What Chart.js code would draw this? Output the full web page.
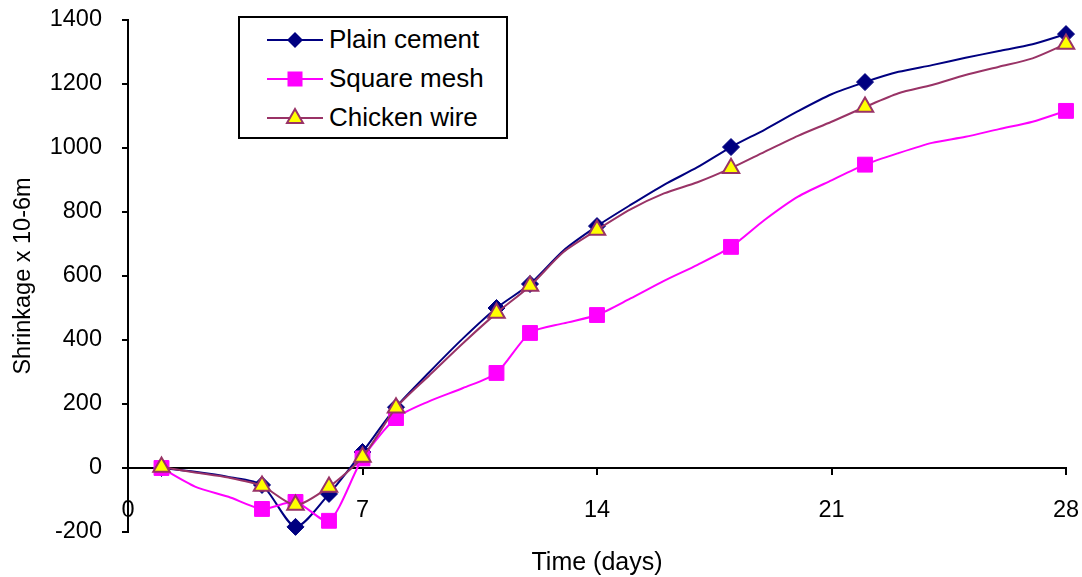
<!DOCTYPE html>
<html>
<head>
<meta charset="utf-8">
<script src="https://cdn.jsdelivr.net/npm/chart.js@4"></script>
<style>
  body { margin: 0; background: #fff; }
  #wrap { position: relative; width: 1082px; height: 577px; }
  #legend {
    position: absolute; left: 238px; top: 16px; width: 266px;
    border: 2px solid #000; background: #fff; padding-top: 2px;
    font-family: "Liberation Sans", Arial, sans-serif; font-size: 26px; color: #000;
  }
  .row { height: 39px; display: flex; align-items: center; }
  .row svg { margin-left: 27px; margin-right: 6px; }
</style>
</head>
<body>
<div id="wrap">
  <canvas id="chart" width="1082" height="577"></canvas>
  <div id="legend"></div>
</div>
<script>
// days of measurement
const days = [1, 2, 3, 4, 5, 6, 7, 8, 9, 10, 11, 12, 13, 14, 15, 16, 17, 18, 19, 20, 21, 22, 23, 24, 25, 26, 27, 28];
// days that carry a marker
const markerDays = [1, 4, 5, 6, 7, 8, 11, 12, 14, 18, 22, 28];

const plainCement = [0, -12, -28, -53, -184, -81, 50, 190, 300, 405, 500, 575, 680, 756, 822, 885, 940, 1003, 1057, 1115, 1168, 1206, 1238, 1259, 1282, 1303, 1324, 1356];
const squareMesh = [0, -58, -90, -128, -106, -165, 30, 156, 209, 250, 297, 422, 452, 478, 530, 585, 635, 691, 775, 848, 899, 948, 984, 1016, 1035, 1059, 1082, 1116];
const chickenWire = [3, -14, -30, -56, -116, -59, 34, 188, 290, 390, 484, 569, 675, 744, 808, 858, 893, 937, 988, 1038, 1082, 1128, 1171, 1197, 1228, 1254, 1280, 1325];

const xTicks = [0, 7, 14, 21, 28];
const yMin = -200, yMax = 1400, yStep = 200;

const font = "'Liberation Sans', Arial, sans-serif";

function pts(values) {
    return days.map((d, i) => ({ x: d, y: values[i] }));
}
function radii(r) {
    return days.map(d => markerDays.includes(d) ? r : 0);
}

const series = [
    { label: "Plain cement", data: plainCement, color: "#000080", style: "rectRot", r: 8.5, fill: "#000080", edge: "#000080", order: 2 },
    { label: "Square mesh", data: squareMesh, color: "#FF00FF", style: "rect", r: 10.5, fill: "#FF00FF", edge: "#FF00FF", order: 1 },
    { label: "Chicken wire", data: chickenWire, color: "#993366", style: "triangle", r: 9.5, fill: "#FFFF00", edge: "#993366", order: 0 },
];

// keep the axes from reserving extra room for label overhang
function noOverhang(scale) {
    scale.paddingTop = 0;
    scale.paddingBottom = 0;
    scale.paddingLeft = 0;
    scale.paddingRight = 0;
}

const chart = new Chart(document.getElementById("chart"), {
    type: "line",
    data: {
        datasets: series.map(s => ({
            label: s.label,
            data: pts(s.data),
            borderColor: s.color,
            borderWidth: 2,
            tension: 0.25,
            pointStyle: s.style,
            pointRadius: radii(s.r),
            pointBackgroundColor: s.fill,
            pointBorderColor: s.edge,
            pointBorderWidth: s.style === "triangle" ? 2 : 1,
            order: s.order,
            clip: false,
        })),
    },
    options: {
        responsive: false,
        animation: false,
        layout: { padding: { left: 0, top: 20, right: 16, bottom: 45 } },
        plugins: {
            legend: { display: false },
            tooltip: { enabled: false },
        },
        scales: {
            x: {
                type: "linear",
                position: { y: 0 },
                min: 0,
                max: 28,
                afterBuildTicks: scale => { scale.ticks = xTicks.map(v => ({ value: v })); },
                afterFit: noOverhang,
                grid: { drawOnChartArea: false, drawTicks: true, tickLength: 6, color: "#000", lineWidth: 2 },
                border: { display: true, color: "#000", width: 2 },
                ticks: { padding: 22, color: "#000", font: { family: font, size: 23.5 }, maxRotation: 0 },
                title: { display: true, text: "Time (days)", color: "#000", font: { family: font, size: 25 }, padding: { top: 2, bottom: 0 } },
            },
            y: {
                min: yMin,
                max: yMax,
                afterFit: scale => { noOverhang(scale); scale.width = 128; },
                ticks: { stepSize: yStep, padding: 20, color: "#000", font: { family: font, size: 23.5 }, callback: v => String(v) },
                grid: { drawOnChartArea: false, drawTicks: true, tickLength: 6, color: "#000", lineWidth: 2 },
                border: { display: true, color: "#000", width: 2 },
                title: { display: true, text: "Shrinkage x 10-6m", color: "#000", font: { family: font, size: 23.5 }, padding: { top: 9, bottom: 15 } },
            },
        },
    },
});

// legend box with line + marker icons
function icon(s) {
    const w = 56, h = 24, cx = 28, cy = 12;
    let mark = "";
    if (s.style === "rectRot") {
        mark = `<polygon points="${cx},${cy - 8} ${cx + 8},${cy} ${cx},${cy + 8} ${cx - 8},${cy}" fill="${s.fill}"/>`;
    } else if (s.style === "rect") {
        mark = `<rect x="${cx - 7.5}" y="${cy - 7.5}" width="15" height="15" fill="${s.fill}"/>`;
    } else {
        mark = `<polygon points="${cx},${cy - 9} ${cx + 8},${cy + 5} ${cx - 8},${cy + 5}" fill="${s.fill}" stroke="${s.edge}" stroke-width="2"/>`;
    }
    return `<svg width="${w}" height="${h}"><line x1="0" y1="${cy}" x2="${w}" y2="${cy}" stroke="${s.color}" stroke-width="2"/>${mark}</svg>`;
}
document.getElementById("legend").innerHTML = series
    .map(s => `<div class="row">${icon(s)}<span>${s.label}</span></div>`)
    .join("");
</script>
</body>
</html>
